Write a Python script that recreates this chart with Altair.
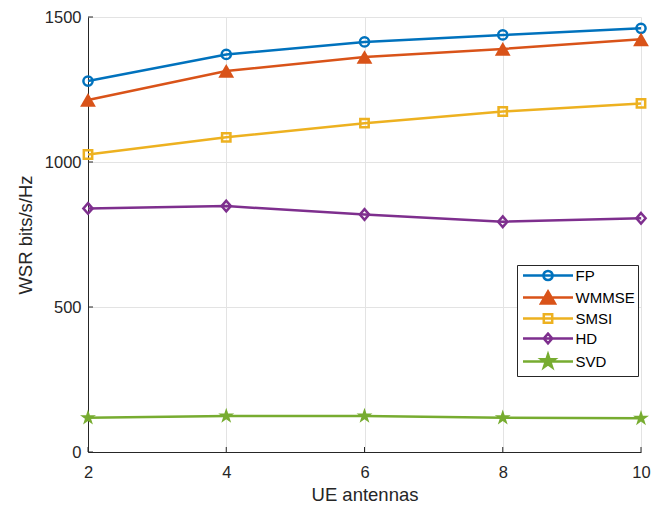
import altair as alt
import pandas as pd

# Weighted sum rate versus number of UE antennas
antennas = [2, 4, 6, 8, 10]
fp = [1279, 1371, 1414, 1438, 1461]
wmmse = [1214, 1314, 1362, 1390, 1423]
smsi = [1026, 1085, 1134, 1174, 1202]
hd = [840, 848, 819, 794, 806]
svd = [118, 124, 124, 118, 116]
y_ticks = [0, 500, 1000, 1500]

series_names = ["FP", "WMMSE", "SMSI", "HD", "SVD"]
series_values = [fp, wmmse, smsi, hd, svd]

rows = []
for name, vals in zip(series_names, series_values):
    for a, v in zip(antennas, vals):
        rows.append({"antennas": a, "wsr": v, "series": name})
df = pd.DataFrame(rows)

colors = ["#0072BD", "#D95319", "#EDB120", "#7E2F8E", "#77AC30"]

STAR = ("M0,-1L0.225,-0.309L0.951,-0.309L0.363,0.118L0.588,0.809L0,0.382"
        "L-0.588,0.809L-0.363,0.118L-0.951,-0.309L-0.225,-0.309Z")
DIAMOND = "M0,-1.15L1,0L0,1.15L-1,0Z"
# marker style per series: shape, area, filled
markers = {
    "FP": ("circle", 85, False),
    "WMMSE": ("triangle-up", 250, True),
    "SMSI": ("square", 70, False),
    "HD": (DIAMOND, 85, False),
    "SVD": (STAR, 280, True),
}

# legend glyphs: a short line segment with the marker on top.
# Open markers are traced twice in opposite directions so that the
# nonzero fill rule leaves their interior empty.
SEG = "M-5,0H5"
CIRCLE_L = ("M0.92,0A0.92,0.92 0 1,1 -0.92,0A0.92,0.92 0 1,1 0.92,0Z"
            "M0.92,0A0.92,0.92 0 1,0 -0.92,0A0.92,0.92 0 1,0 0.92,0Z")
TRI_L = "M0,-1.2L1.4,1.2L-1.4,1.2Z"
SQ_L = ("M-0.84,-0.84H0.84V0.84H-0.84Z"
        "M-0.84,-0.84V0.84H0.84V-0.84Z")
DIA_L = ("M0,-0.98L0.85,0L0,0.98L-0.85,0Z"
         "M0,-0.98L-0.85,0L0,0.98L0.85,0Z")
STAR_L = ("M0,-1.4L0.314,-0.433L1.331,-0.433L0.508,0.165L0.823,1.133"
          "L0,0.535L-0.823,1.133L-0.508,0.165L-1.331,-0.433L-0.314,-0.433Z")
legend_paths = [SEG + CIRCLE_L, SEG + TRI_L, SEG + SQ_L, SEG + DIA_L, SEG + STAR_L]

FONT = "Liberation Sans"
TXT = "#262626"

x_scale = alt.Scale(domain=[2, 10], nice=False)
y_scale = alt.Scale(domain=[0, 1500], nice=False)

x = alt.X(
    "antennas:Q",
    scale=x_scale,
    axis=alt.Axis(
        title="UE antennas",
        values=antennas,
        format="d",
        tickSize=0,
        labelFlush=False,
        labelPadding=12,
        titlePadding=5,
    ),
)
y = alt.Y(
    "wsr:Q",
    scale=y_scale,
    axis=alt.Axis(
        title="WSR bits/s/Hz",
        values=y_ticks,
        format="d",
        tickSize=0,
        labelFlush=False,
        labelPadding=7,
        titlePadding=9,
    ),
)

legend = alt.Legend(
    title=None,
    orient="none",
    legendX=429,
    legendY=248,
    strokeColor=TXT,
    fillColor="white",
    padding=3,
    rowPadding=0,
    symbolSize=100,
    symbolStrokeWidth=2.5,
    symbolOpacity=1,
    symbolOffset=20.5,
    labelOffset=20,
    labelFont=FONT,
    labelFontSize=15,
    labelColor="black",
)

color = alt.Color("series:N", scale=alt.Scale(domain=series_names, range=colors), legend=legend)

lines = alt.Chart(df).mark_line(strokeWidth=2.5).encode(x=x, y=y, color=color)

point_layers = []
for name in series_names:
    shp, area, filled = markers[name]
    point_layers.append(
        alt.Chart(df)
        .transform_filter(alt.datum.series == name)
        .mark_point(
            shape=shp,
            size=area,
            filled=filled,
            strokeWidth=0 if filled else 2.5,
            opacity=1,
        )
        .encode(x=x, y=y, color=color)
    )

# inward tick marks
tick_df_x = pd.DataFrame({"antennas": antennas})
tick_df_y = pd.DataFrame({"wsr": y_ticks})
x_ticks = alt.Chart(tick_df_x).mark_rule(color=TXT, strokeWidth=1).encode(
    x=alt.X("antennas:Q", scale=x_scale), y=alt.value(435), y2=alt.value(430)
)
y_tick_marks = alt.Chart(tick_df_y).mark_rule(color=TXT, strokeWidth=1).encode(
    y=alt.Y("wsr:Q", scale=y_scale), x=alt.value(0), x2=alt.value(5)
)

# legend layer: invisible points whose legend shows line + marker glyphs
legend_layer = (
    alt.Chart(df)
    .transform_filter(alt.datum.antennas == 2)
    .mark_point(size=100, strokeWidth=2.5, opacity=0)
    .encode(
        x=x,
        y=y,
        color=color,
        shape=alt.Shape("series:N", scale=alt.Scale(domain=series_names, range=legend_paths), legend=legend),
    )
)

chart = (
    alt.layer(lines, *point_layers, x_ticks, y_tick_marks, legend_layer)
    .properties(
        width=553,
        height=435,
        autosize=alt.AutoSizeParams(type="none"),
        padding={"left": 88, "top": 17, "right": 16, "bottom": 54},
        background="white",
    )
    .configure_view(stroke=None)
    .configure_axis(
        labelFont=FONT,
        labelFontSize=16.5,
        labelColor=TXT,
        titleFont=FONT,
        titleFontSize=18.5,
        titleFontWeight="normal",
        titleColor=TXT,
        domainColor=TXT,
        domainWidth=1,
        gridColor="#e3e3e3",
        gridWidth=1,
    )
)

chart.save("out.html", embed_options={"renderer": "svg", "actions": False})
